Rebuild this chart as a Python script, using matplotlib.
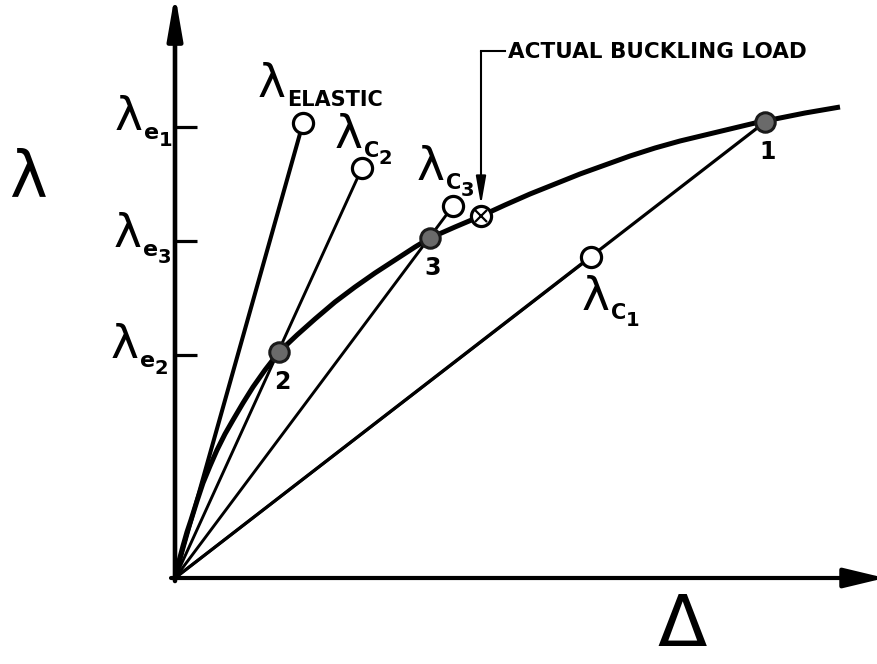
import matplotlib.pyplot as plt

plt.rcParams['font.family'] = 'DejaVu Sans'
plt.rcParams['mathtext.fontset'] = 'dejavusans'
plt.rcParams['mathtext.default'] = 'regular'

# load-deflection curve (delta, lambda)
curve_d = [0, 4, 8, 12, 16, 22, 28, 35, 42, 50, 58, 68, 78, 90, 104,
           122, 140, 160, 180, 200, 220, 240, 255,
           280, 306, 330, 355, 380, 405, 430, 455, 480, 505, 530, 555, 580, 605, 630, 665]
curve_l = [0, 17, 32, 46, 58, 77, 95, 112, 128, 144, 158, 175, 191, 208, 226,
           243, 259, 276, 291, 305, 318, 331, 340,
           351, 362, 373, 384, 394, 404, 413, 422, 430, 437, 443, 449, 455, 460, 465, 471]

# equilibrium points 1, 2, 3 on the curve
pt_names = ['1', '2', '3']
pt_d = [590, 104, 255]
pt_l = [456, 226, 340]

# critical / elastic end points (open circles)
crit_names = ['ELASTIC', 'C2', 'C3', 'C1']
crit_d = [128, 187, 278, 416]
crit_l = [455, 410, 372, 321]

# actual buckling load
buck_d = 306
buck_l = 362

# elastic load levels on the lambda axis
e_names = ['1', '3', '2']
e_levels = [451, 337, 223]

fig = plt.figure(figsize=(8.77, 6.64), dpi=100)
ax = fig.add_axes([0, 0, 1, 1])
ax.set_xlim(-175, 702)
ax.set_ylim(-86, 578)
ax.axis('off')

# axes with arrows
ax.annotate('', xy=(710, 0), xytext=(-4, 0), annotation_clip=False,
            arrowprops=dict(arrowstyle='-|>,head_length=2.5,head_width=0.6',
                            lw=3, color='k', shrinkA=0, shrinkB=0))
ax.annotate('', xy=(0, 584), xytext=(0, -3), annotation_clip=False,
            arrowprops=dict(arrowstyle='-|>,head_length=2.6,head_width=0.45',
                            lw=3.3, color='k', shrinkA=0, shrinkB=0))

for y in e_levels:
    ax.plot([0, 22], [y, y], color='k', lw=2.3, solid_capstyle='butt')

# secant lines from the origin
ax.plot([0, crit_d[0]], [0, crit_l[0]], color='k', lw=2.9, zorder=2)
for d, l in zip(crit_d[1:], crit_l[1:]):
    ax.plot([0, d], [0, l], color='k', lw=2.1, zorder=2)
ax.plot([0, pt_d[0]], [0, pt_l[0]], color='k', lw=2.3, zorder=2)

# the curve itself
ax.plot(curve_d, curve_l, color='k', lw=3.6, solid_capstyle='butt',
        solid_joinstyle='round', zorder=3)

ax.plot(crit_d, crit_l, 'o', ms=14.5, mfc='white', mec='k', mew=2.3, zorder=4)
ax.plot(pt_d, pt_l, 'o', ms=14, mfc='#6a6a6a', mec='#1a1a1a', mew=2.2, zorder=4)
ax.plot([buck_d], [buck_l], 'o', ms=14.5, mfc='white', mec='k', mew=2.3, zorder=4)
ax.plot([buck_d], [buck_l], 'x', ms=8.5, mec='k', mew=1.6, zorder=5)

# point numbers
for name, d, l in zip(pt_names, pt_d, pt_l):
    ax.annotate(name, (d, l), xytext=(3, -30), textcoords='offset pixels',
                fontsize=17, fontweight='bold', ha='center', va='center')


def lam(x, y, sub, num=None, size=34, subsize=16):
    ax.text(x, y, 'λ', fontsize=size, ha='left', va='baseline')
    ax.annotate(sub, (x, y), xytext=(29, -9), textcoords='offset pixels',
                fontsize=subsize, fontweight='bold', va='baseline')
    if num:
        ax.annotate(num, (x, y), xytext=(44, -16), textcoords='offset pixels',
                    fontsize=14, fontweight='bold', va='baseline')


lam(-60, e_levels[0] - 3, 'e', e_names[0])
lam(-61, e_levels[1] - 6, 'e', e_names[1])
lam(-64, e_levels[2] - 3, 'e', e_names[2])
lam(83, 481, 'ELASTIC', subsize=15)
lam(160, 430, 'C', '2', subsize=15)
lam(242, 398, 'C', '3', subsize=15)
lam(407, 268, 'C', '1', subsize=15)

# actual buckling load callout
ax.plot([buck_d, buck_d + 24], [527, 527], color='k', lw=1.5)
ax.annotate('', xy=(buck_d, buck_l + 11), xytext=(buck_d, 527),
            arrowprops=dict(arrowstyle='-|>,head_length=1.7,head_width=0.3',
                            lw=1.5, color='k', shrinkA=0, shrinkB=0))
ax.text(buck_d + 27, 520, 'ACTUAL BUCKLING LOAD', fontsize=15.5,
        fontweight='bold', ha='left', va='baseline')

# axis titles
ax.text(-147, 400, 'λ', fontsize=46, ha='center', va='center')
ax.text(507, -83, r'$\Delta$', fontsize=52, ha='center', va='bottom')

fig.savefig('out.png', dpi=100)
